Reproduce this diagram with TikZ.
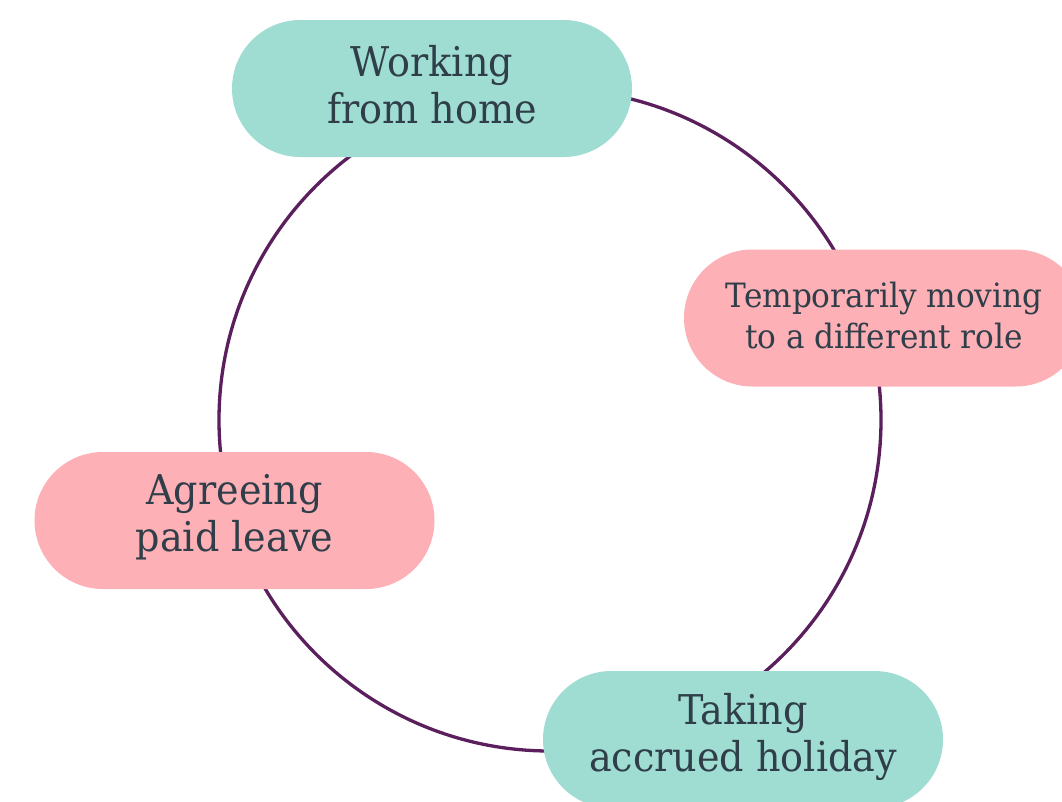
\documentclass[tikz,border=0pt]{standalone}
\usepackage{fontspec}
\setmainfont[FakeStretch=0.93]{DejaVu Serif}
\usetikzlibrary{shapes.misc}
\definecolor{pillteal}{HTML}{9FDDD3}
\definecolor{pillpink}{HTML}{FDB0B6}
\definecolor{ringpurple}{HTML}{5A1F5C}
\definecolor{inkslate}{HTML}{2F3E48}
\begin{document}
\begin{tikzpicture}[x=1pt,y=-1pt,
  pill/.style={rounded rectangle, minimum width=400pt, minimum height=137pt,
    inner sep=0pt},
  pilltext/.style={inner sep=0pt, text=inkslate, align=center},
  bigtext/.style={font=\fontsize{41}{47}\selectfont},
  smalltext/.style={font=\fontsize{33.5}{41}\selectfont}]
\useasboundingbox (0,0) rectangle (1062,801);
\fill[white] (0,0) rectangle (1062,801);
% the ring behind the four options
\node[circle, draw=ringpurple, line width=3.3pt, minimum size=662pt, inner sep=0pt] (ring) at (550,420) {};
% the four options
\node[pill, fill=pillteal] (wfh) at (432,88.5) {};
\node[pill, fill=pillpink] (role) at (884,318) {};
\node[pill, fill=pillpink] (leave) at (234.5,520.5) {};
\node[pill, fill=pillteal] (holiday) at (743,739.5) {};
% their captions
\node[pilltext, bigtext] (wfhtext) at ([yshift=4pt]wfh.center) {Working\\from home};
\node[pilltext, smalltext] (roletext) at ([yshift=2pt]role.center) {Temporarily moving\\to a different role};
\node[pilltext, bigtext] (leavetext) at ([yshift=3pt]leave.center) {Agreeing\\paid leave};
\node[pilltext, bigtext] (holidaytext) at ([yshift=3pt]holiday.center) {Taking\\accrued holiday};
\end{tikzpicture}
\end{document}
